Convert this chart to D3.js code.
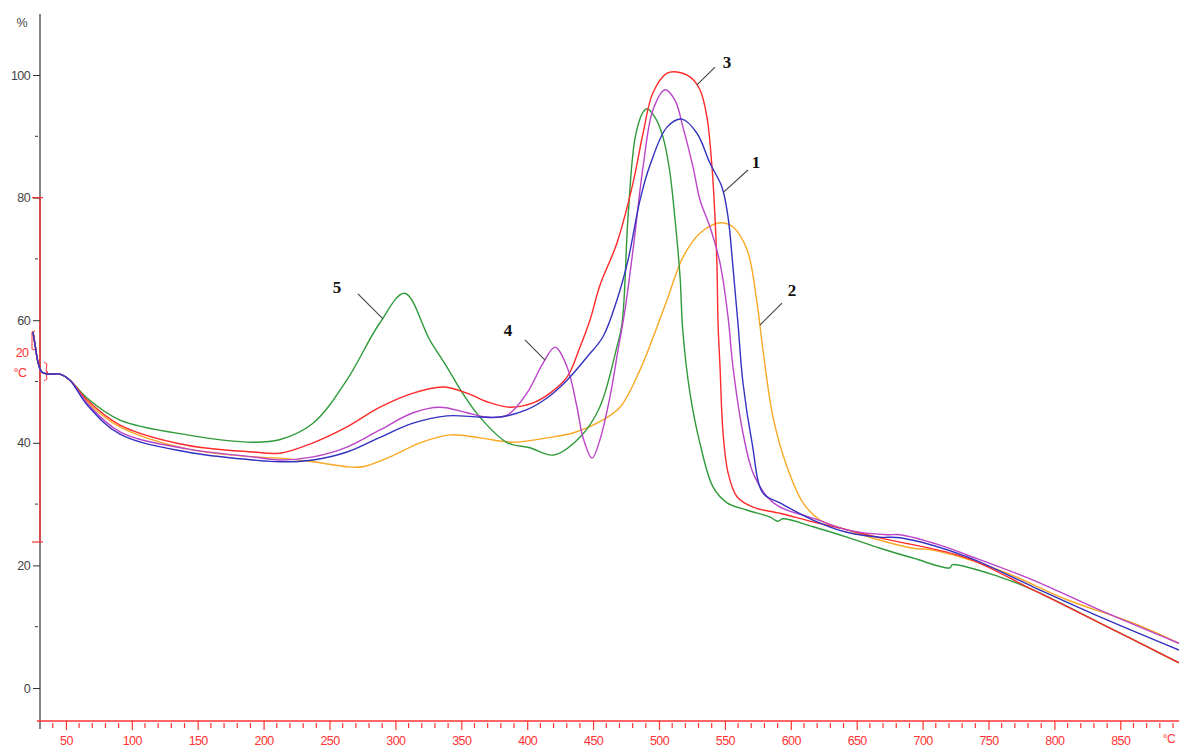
<!DOCTYPE html>
<html><head><meta charset="utf-8">
<script src="https://cdn.jsdelivr.net/npm/d3@7"></script>
<style>
html,body{margin:0;padding:0;background:#fff;}
svg{display:block;}
</style></head>
<body>
<svg id="chart" width="1179" height="747"></svg>
<script>
// ---- Data: [temperature °C, value %] ----
const startCommon = [[25.0,58.1],[26.6,56.0],[28.8,53.2],[31.9,51.5],[37.9,51.2],[45.5,51.2],[53.1,50.2]];

const curve1Blue = [[66,46.2],[91,41.4],[142,38.5],[192,37.2],[212.4,36.9],[237.5,37.2],[263.3,38.5],[288.3,40.9],[313.4,43.2],[339.2,44.4],[364.2,44.2],[379.4,44.2],[399.8,45.4],[415,47.3],[430.2,50.2],[445.4,54.0],[457.5,57.3],[468.1,63.3],[476.5,69.8],[485.6,79.6],[493.2,85.3],[506.1,91.5],[517.5,92.8],[528.8,90.5],[538.7,85.6],[547.8,81.7],[552.4,76.8],[556.1,68.7],[559.9,59.5],[563.7,49.8],[570.6,40.0],[578.9,31.8],[591.8,30.2],[616.8,27.4],[642.6,25.4],[667.7,24.6],[682.9,24.5],[733.7,21.4],[783.8,16.5],[834.6,11.6],[894.5,6.2]];

const curve2Orange = [[66,46.7],[91,42.6],[142,39.0],[192,37.7],[212.4,37.5],[237.5,36.9],[263.3,36.1],[275.4,36.1],[295.9,37.7],[318.7,40.0],[341.4,41.3],[364.2,40.8],[389.2,40.1],[415,40.8],[434.7,41.6],[453,43.2],[470.4,45.8],[485.6,51.9],[498.5,58.9],[506.1,63.3],[518.2,70.3],[531.1,74.2],[546.3,75.9],[556.1,75.2],[566.8,71.5],[574.4,62.8],[578.9,55.1],[586.5,44.2],[597.1,36.1],[609.3,30.2],[622.2,27.4],[642.6,25.8],[667.7,24.1],[692.7,22.8],[707.9,22.5],[758.7,19.2],[809.6,14.4],[859.6,10.6],[894.5,7.3]];

const curve3Red = [[66,47.0],[91,42.9],[142,39.6],[192,38.5],[212.4,38.3],[237.5,40.0],[263.3,42.6],[288.3,45.8],[313.4,48.1],[336.1,49.1],[354.3,48.1],[369.5,46.7],[387,45.8],[404.4,46.5],[417.3,48.1],[430.2,50.7],[440,55.6],[447.6,60.0],[455.2,65.7],[468.1,72.6],[480.3,82.4],[487.9,90.5],[495.4,97.1],[506.1,100.3],[513.7,100.5],[523.5,99.7],[531.1,97.6],[536.4,93.1],[540.2,85.0],[542.5,76.8],[544.0,68.7],[544.8,59.5],[546.3,52.4],[548.6,41.6],[552.4,35.1],[559.2,31.2],[571.3,29.5],[591.8,28.5],[616.8,27.1],[642.6,25.8],[667.7,24.5],[682.9,23.8],[733.7,21.2],[783.8,16.0],[834.6,10.6],[894.5,4.1]];

const curve4Purple = [[66,46.5],[91,41.8],[142,39.0],[192,37.7],[212.4,37.2],[237.5,37.7],[263.3,39.3],[288.3,42.1],[313.4,44.9],[333.8,45.8],[354.3,44.9],[369.5,44.2],[384.7,44.5],[399.8,48.1],[412,53.0],[421.1,55.6],[430.2,52.4],[437.8,45.8],[442.3,40.9],[449.2,37.5],[455.2,40.5],[462.8,47.5],[468.9,55.1],[474.2,61.7],[480.3,71.5],[487.9,85.0],[495.4,94.3],[504.6,97.6],[512.1,95.9],[518.2,91.5],[525.8,85.0],[531.1,79.6],[538.7,75.2],[546.3,69.3],[552.4,60.5],[556.1,52.4],[563.7,41.6],[571.3,35.1],[582,31.2],[591.8,29.5],[616.8,27.7],[642.6,25.8],[673,25.0],[682.9,25.0],[713.2,23.3],[733.7,21.7],[783.8,17.6],[834.6,12.7],[894.5,7.3]];

const curve5Green = [[66,47.3],[91,43.7],[142,41.3],[192,40.1],[212,40.5],[237.5,43.2],[263,50.2],[288,59.5],[307,64.4],[326,56.8],[339,52.4],[351,48.1],[364,44.2],[385,40.0],[402,39.2],[420,38.0],[440,40.9],[455,45.8],[468,55.6],[472,59.5],[476.5,76.8],[482,89.9],[488,94.0],[491,94.5],[497,93.1],[503,89.9],[508,84.5],[512,76.8],[516,67.0],[518,58.4],[523.5,48.1],[531,40.0],[541,32.8],[551.6,30.2],[567,29.0],[584,27.9],[590,27.2],[594,27.6],[617,26.3],[642.6,24.6],[667.7,22.8],[692.7,21.2],[720.8,19.6],[722.3,20.1],[758.7,18.1],[783.8,16.0],[834.6,10.6],[894.5,4.1]];

const yTicks = [0,20,40,60,80,100];
const yMinor = [10,30,50,70,90];
const xLabels = [50,100,150,200,250,300,350,400,450,500,550,600,650,700,750,800,850];
const curveLabels = [
  {name:"1", at:[573.6,85.8], from:[567.5,84.5], to:[548.6,80.8]},
  {name:"2", at:[600.9,64.9], from:[593.3,62.8], to:[576.6,59.2]},
  {name:"3", at:[551.6,102.1], from:[542.5,101.3], to:[528.8,98.4]},
  {name:"4", at:[385.4,58.4], from:[398.3,56.8], to:[413.5,53.5]},
  {name:"5", at:[255.7,65.4], from:[271.6,64.3], to:[290.6,60.2]}
];

const series = [
  {data: curve2Orange, color:"#f9a825"},
  {data: curve5Green, color:"#2f9a3a"},
  {data: curve3Red, color:"#ff2a2a"},
  {data: curve4Purple, color:"#bb44c8"},
  {data: curve1Blue, color:"#3232c0"}
];

// ---- Scales ----
const x = d3.scaleLinear().domain([0, 900]).range([0, 1186.2]);
const y = d3.scaleLinear().domain([0, 100]).range([688, 75]);

const svg = d3.select("#chart");
const axisX = 40, xAxisY = 721;
const FONT = "Liberation Sans, Arial, sans-serif";

// y axis (black), with red segment
svg.append("line").attr("x1",axisX).attr("x2",axisX).attr("y1",14).attr("y2",729)
  .attr("stroke","#333").attr("stroke-width",1.2);
svg.append("line").attr("x1",axisX).attr("x2",axisX).attr("y1",y(80)).attr("y2",542)
  .attr("stroke","#ff3333").attr("stroke-width",1.4);

const yAxis = d3.axisLeft(y).tickValues(yTicks).tickSize(7).tickPadding(3);
const gy = svg.append("g").attr("transform",`translate(${axisX},0)`).call(yAxis);
gy.select(".domain").remove();
gy.selectAll(".tick line").attr("stroke","#333");
gy.selectAll(".tick text").attr("fill","#444").style("font-family",FONT).style("font-size","12.5px").attr("letter-spacing","-0.6");

svg.append("g").selectAll("line").data(yMinor).join("line")
  .attr("x1",axisX-5).attr("x2",axisX-2).attr("y1",d=>y(d)).attr("y2",d=>y(d))
  .attr("stroke","#333");

// red ticks on the red segment
[y(80), 542].forEach(v=>{
  svg.append("line").attr("x1",32).attr("x2",43).attr("y1",v).attr("y2",v).attr("stroke","#ff3333").attr("stroke-width",1.2);
});

svg.append("text").attr("x",22).attr("y",27).attr("text-anchor","middle")
  .attr("fill","#444").style("font-family",FONT).style("font-size","12.5px").text("%");

// red secondary labels
svg.append("text").attr("x",22).attr("y",357).attr("text-anchor","middle").attr("fill","#ff3333")
  .style("font-family",FONT).style("font-size","12.5px").attr("letter-spacing","-0.6").text("20");
svg.append("text").attr("x",20).attr("y",377).attr("text-anchor","middle").attr("fill","#ff3333")
  .style("font-family",FONT).style("font-size","12.5px").attr("letter-spacing","-0.6").text("°C");
svg.append("path").attr("d","M35,331 L32,332 L32,349 L35,350").attr("fill","none").attr("stroke","#ff3333");
svg.append("path").attr("d","M44,362 L47,364 L46,371 L48,372 L46,373 L47,379 L44,381").attr("fill","none").attr("stroke","#ff3333");

// x axis (red)
svg.append("line").attr("x1",37).attr("x2",1179).attr("y1",xAxisY).attr("y2",xAxisY)
  .attr("stroke","#ff3333").attr("stroke-width",1.4);
const minorX = d3.range(40, 900, 10).filter(t=>t%50!==0);
svg.append("g").selectAll("line").data(minorX).join("line")
  .attr("x1",d=>x(d)).attr("x2",d=>x(d)).attr("y1",xAxisY+2).attr("y2",xAxisY+7)
  .attr("stroke","#ff3333").attr("stroke-width",1.2);
const xAxis = d3.axisBottom(x).tickValues(xLabels).tickSize(9).tickPadding(6);
const gx = svg.append("g").attr("transform",`translate(0,${xAxisY})`).call(xAxis);
gx.select(".domain").remove();
gx.selectAll(".tick line").attr("stroke","#ff3333").attr("stroke-width",1.2);
gx.selectAll(".tick text").attr("fill","#ff3333").style("font-family",FONT).style("font-size","12.5px").attr("letter-spacing","-0.6");
svg.append("text").attr("x",1175).attr("y",743).attr("text-anchor","end").attr("fill","#ff3333")
  .style("font-family",FONT).style("font-size","12px").attr("letter-spacing","-0.6").text("°C");

// curves
const line = d3.line().x(d=>x(d[0])).y(d=>y(d[1])).curve(d3.curveCatmullRom.alpha(0.5));
series.forEach(s=>{
  svg.append("path").datum(startCommon.concat(s.data)).attr("d",line)
    .attr("fill","none").attr("stroke",s.color).attr("stroke-width",1.4).attr("stroke-linejoin","round");
});

// curve labels with leader lines
curveLabels.forEach(l=>{
  svg.append("line").attr("x1",x(l.from[0])).attr("y1",y(l.from[1])).attr("x2",x(l.to[0])).attr("y2",y(l.to[1]))
    .attr("stroke","#444").attr("stroke-width",1.1);
  svg.append("text").attr("x",x(l.at[0])).attr("y",y(l.at[1])+6).attr("text-anchor","middle")
    .attr("fill","#111").style("font-family","Liberation Serif, Times New Roman, serif")
    .style("font-size","17px").style("font-weight","bold").text(l.name);
});
</script>
</body></html>
